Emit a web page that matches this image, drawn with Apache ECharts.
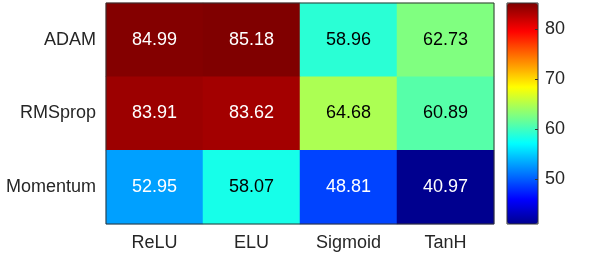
<!DOCTYPE html>
<html>
<head>
<meta charset="utf-8">
<script src="https://cdn.jsdelivr.net/npm/echarts@6/dist/echarts.min.js"></script>
<style>
html,body{margin:0;padding:0;background:#fff;}
#chart{width:598px;height:253px;}
</style>
</head>
<body>
<div id="chart"></div>
<script>
// ---- data ----
var activations = ['ReLU', 'ELU', 'Sigmoid', 'TanH'];
var optimizers = ['ADAM', 'RMSprop', 'Momentum']; // top to bottom
var adamValues = [84.99, 85.18, 58.96, 62.73];
var rmspropValues = [83.91, 83.62, 64.68, 60.89];
var momentumValues = [52.95, 58.07, 48.81, 40.97];
var colorbarTicks = [50, 60, 70, 80];
var colorMin = 40.97;
var colorMax = 85.18;

// MATLAB jet(64) colormap
function jet(m) {
  var n = Math.ceil(m / 4), u = [], i;
  for (i = 1; i <= n; i++) u.push(i / n);
  for (i = 1; i <= n - 1; i++) u.push(1);
  for (i = n; i >= 1; i--) u.push(i / n);
  var g0 = Math.ceil(n / 2) - (m % 4 === 1 ? 1 : 0);
  var r = [], g = [], b = [];
  for (i = 0; i < m; i++) { r.push(0); g.push(0); b.push(0); }
  for (var k = 0; k < u.length; k++) {
    var gi = g0 + k + 1, ri = gi + n, bi = gi - n;
    if (gi >= 1 && gi <= m) g[gi - 1] = u[k];
    if (ri >= 1 && ri <= m) r[ri - 1] = u[k];
    if (bi >= 1 && bi <= m) b[bi - 1] = u[k];
  }
  var out = [];
  for (i = 0; i < m; i++) {
    out.push('rgb(' + Math.round(r[i] * 255) + ',' + Math.round(g[i] * 255) + ',' + Math.round(b[i] * 255) + ')');
  }
  return out;
}
var jetColors = jet(64);

var rows = [adamValues, rmspropValues, momentumValues];
var heatData = [];
rows.forEach(function (vals, ri) {
  vals.forEach(function (v, ci) {
    var light = v >= 55 && v <= 75;
    heatData.push({
      value: [ci, ri, v],
      label: { color: light ? '#000' : '#fff' }
    });
  });
});

var FONT = "'Liberation Sans', Arial, Helvetica, sans-serif";
var chart = echarts.init(document.getElementById('chart'), null, { renderer: 'canvas' });
chart.setOption({
  animation: false,
  backgroundColor: '#fff',
  grid: [
    { left: 106, top: 3, width: 388, height: 221, show: true, borderColor: '#333', borderWidth: 1, backgroundColor: 'transparent', z: 10 },
    { left: 507, top: 3, width: 31, height: 221, show: true, borderColor: '#333', borderWidth: 1, backgroundColor: 'transparent', z: 10 }
  ],
  xAxis: [
    {
      gridIndex: 0, type: 'category', data: activations,
      axisLine: { show: false }, axisTick: { show: false }, splitLine: { show: false },
      axisLabel: { color: '#262626', fontSize: 18, fontFamily: FONT, margin: 10 }
    },
    { gridIndex: 1, type: 'value', show: false, min: 0, max: 1, axisLine: { onZero: false } }
  ],
  yAxis: [
    {
      gridIndex: 0, type: 'category', data: optimizers, inverse: true,
      axisLine: { show: false }, axisTick: { show: false }, splitLine: { show: false },
      axisLabel: { color: '#262626', fontSize: 18, fontFamily: FONT, margin: 10 }
    },
    {
      gridIndex: 1, type: 'value', position: 'right', min: colorMin, max: colorMax,
      z: 20,
      axisLine: { show: false, onZero: false },
      splitLine: { show: false },
      axisTick: { show: true, inside: true, length: 3, customValues: colorbarTicks, lineStyle: { color: '#333' } },
      axisLabel: { color: '#262626', fontSize: 18, fontFamily: FONT, margin: 7, customValues: colorbarTicks }
    }
  ],
  visualMap: {
    type: 'continuous',
    seriesIndex: 0,
    min: colorMin, max: colorMax,
    calculable: false,
    left: 507, top: 3,
    itemWidth: 31, itemHeight: 221,
    padding: 0,
    text: null,
    showLabel: false,
    z: 1,
    inRange: { color: jetColors },
    orient: 'vertical'
  },
  series: [
    {
      type: 'heatmap', xAxisIndex: 0, yAxisIndex: 0,
      data: heatData,
      label: {
        show: true, fontSize: 18, fontFamily: FONT,
        formatter: function (p) { return p.value[2].toFixed(2); }
      },
      itemStyle: { borderWidth: 0 },
      emphasis: { disabled: true }
    },
    { type: 'scatter', xAxisIndex: 1, yAxisIndex: 1, data: [], silent: true }
  ]
});
</script>
</body>
</html>
